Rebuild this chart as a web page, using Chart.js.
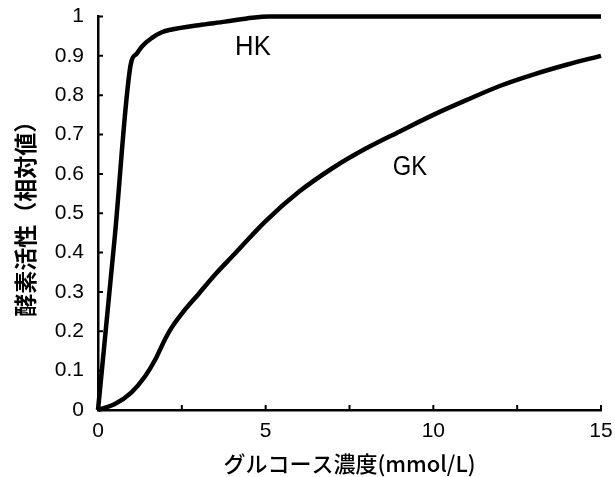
<!DOCTYPE html>
<html>
<head>
<meta charset="utf-8">
<script src="https://cdn.jsdelivr.net/npm/chart.js@4/dist/chart.umd.min.js"></script>
<style>
  html, body { margin: 0; padding: 0; background: #fff; }
  #wrap { width: 615px; height: 477px; }
</style>
</head>
<body>
<div id="wrap"><canvas id="c"></canvas></div>
<script>
// Enzyme activity (relative) vs glucose concentration (mmol/L)
const seriesNames = ['HK', 'GK'];

const hkGlucose  = [0, 0.5, 0.98, 1.15, 1.31, 1.6, 1.9, 2.2, 3.0, 3.8, 4.6, 5.1, 15];
const hkActivity = [0, 0.44, 0.88, 0.905, 0.924, 0.945, 0.96, 0.967, 0.978, 0.987, 0.997, 1.0, 1.0];

const gkGlucose  = [0, 0.5, 1, 1.4, 1.7, 2, 2.2, 2.5, 3, 3.5, 4, 5, 6, 7, 8, 9, 10, 11, 12, 13, 14, 15];
const gkActivity = [0, 0.015, 0.045, 0.085, 0.127, 0.18, 0.21, 0.245, 0.295, 0.345, 0.39, 0.48,
                    0.555, 0.615, 0.665, 0.708, 0.75, 0.788, 0.824, 0.853, 0.878, 0.9];

const xTickLabels = [0, 5, 10, 15];
const yTickLabels = ['0', '0.1', '0.2', '0.3', '0.4', '0.5', '0.6', '0.7', '0.8', '0.9', '1'];

const toPoints = (xs, ys) => xs.map((x, i) => ({ x, y: ys[i] }));

// Inward tick marks on both axes
const innerTicks = {
  id: 'innerTicks',
  beforeDatasetsDraw(chart, args, opts) {
    const { ctx, chartArea, scales: { x, y } } = chart;
    ctx.save();
    ctx.strokeStyle = '#000';
    ctx.lineWidth = 2;
    ctx.beginPath();
    x.ticks.forEach(t => {
      const px = x.getPixelForValue(t.value);
      ctx.moveTo(px, chartArea.bottom);
      ctx.lineTo(px, chartArea.bottom - opts.length);
    });
    y.ticks.forEach(t => {
      const py = y.getPixelForValue(t.value);
      ctx.moveTo(chartArea.left, py);
      ctx.lineTo(chartArea.left + opts.length, py);
    });
    ctx.stroke();
    ctx.restore();
  }
};

// Series names written next to their curves
const curveNames = {
  id: 'curveNames',
  afterDatasetsDraw(chart, args, opts) {
    const { ctx, scales: { x, y } } = chart;
    ctx.save();
    ctx.fillStyle = '#000';
    ctx.font = opts.font;
    ctx.textAlign = 'center';
    ctx.textBaseline = 'middle';
    opts.anchors.forEach((a, i) => {
      ctx.save();
      ctx.translate(x.getPixelForValue(a.x), y.getPixelForValue(a.y));
      ctx.scale(a.squeeze, 1);
      ctx.fillText(seriesNames[i], 0, 0);
      ctx.restore();
    });
    ctx.restore();
  }
};

const tickFont = { family: '"Liberation Sans", Arial, sans-serif', size: 21 };

new Chart(document.getElementById('c'), {
  type: 'line',
  data: {
    datasets: [
      { label: seriesNames[0], data: toPoints(hkGlucose, hkActivity) },
      { label: seriesNames[1], data: toPoints(gkGlucose, gkActivity) }
    ]
  },
  options: {
    responsive: true,
    maintainAspectRatio: false,
    animation: false,
    layout: { padding: { top: 16.5, right: 14, left: 0, bottom: 0 } },
    elements: {
      line: { borderColor: '#000', borderWidth: 4.5, cubicInterpolationMode: 'monotone', fill: false },
      point: { radius: 0, hoverRadius: 0 }
    },
    datasets: { line: { clip: false } },
    plugins: {
      legend: { display: false },
      tooltip: { enabled: false },
      innerTicks: { length: 5 },
      curveNames: {
        font: '27px "Liberation Sans", Arial, sans-serif',
        anchors: [{ x: 4.62, y: 0.922, squeeze: 0.95 }, { x: 9.3, y: 0.615, squeeze: 0.88 }]
      }
    },
    scales: {
      x: {
        type: 'linear',
        min: 0, max: 15,
        grid: { display: false, drawTicks: false },
        border: { display: true, color: '#000', width: 2.5 },
        ticks: {
          stepSize: 2.5,
          autoSkip: false,
          maxRotation: 0,
          padding: 9,
          color: '#000',
          font: tickFont,
          callback: v => xTickLabels.includes(v) ? String(v) : ''
        },
        title: {
          display: true,
          text: 'グルコース濃度(mmol/L)',
          color: '#000',
          font: { family: '"Noto Sans CJK JP", sans-serif', size: 22, weight: '500' },
          padding: { top: 0, bottom: 0 }
        },
        afterFit: s => { s.height = 67; s.paddingLeft = 0; s.paddingRight = 0; }
      },
      y: {
        min: 0, max: 1,
        grid: { display: false, drawTicks: false },
        border: { display: true, color: '#000', width: 2.5 },
        ticks: {
          stepSize: 0.1,
          autoSkip: false,
          padding: 14,
          color: '#000',
          font: tickFont,
          callback: (v, i) => yTickLabels[Math.round(v * 10)]
        },
        title: {
          display: true,
          text: '酵素活性（相対値）',
          color: '#000',
          font: { family: '"Noto Sans CJK JP", sans-serif', size: 23, weight: 'bold' },
          padding: { top: 11, bottom: 0 }
        },
        afterFit: s => { s.width = 98; s.paddingTop = 0; s.paddingBottom = 0; }
      }
    }
  },
  plugins: [innerTicks, curveNames]
});
</script>
</body>
</html>
